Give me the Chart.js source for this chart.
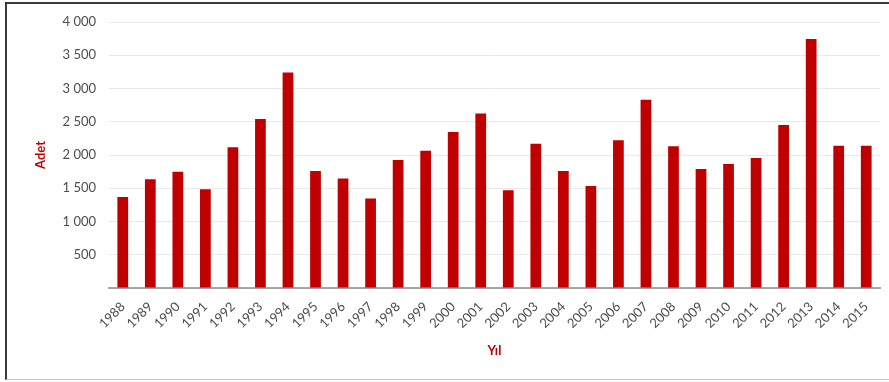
<!DOCTYPE html>
<html>
<head>
<meta charset="utf-8">
<script src="https://cdn.jsdelivr.net/npm/chart.js@4"></script>
<style>
  html, body { margin: 0; padding: 0; background: #fff; }
  #wrap {
    position: relative;
    width: 889px; height: 382px;
    box-sizing: border-box;
  }
  #frame {
    position: absolute; left: 5px; top: 2px; width: 884px; height: 378px;
    border-left: 2px solid #3a3a3a; border-top: 2px solid #3a3a3a;
    border-bottom: 1px solid #c8c8c8;
    box-sizing: border-box; pointer-events: none;
  }
  canvas { position: absolute; left: 0; top: 0; }
</style>
</head>
<body>
<div id="wrap">
  <canvas id="chart" width="889" height="382"></canvas>
  <div id="frame"></div>
</div>
<script>
const years = ['1988', '1989', '1990', '1991', '1992', '1993', '1994', '1995', '1996', '1997',
  '1998', '1999', '2000', '2001', '2002', '2003', '2004', '2005', '2006', '2007',
  '2008', '2009', '2010', '2011', '2012', '2013', '2014', '2015'];
const counts = [1370, 1635, 1750, 1485, 2115, 2540, 3240, 1760, 1645, 1345,
  1925, 2065, 2345, 2625, 1470, 2170, 1760, 1535, 2220, 2830,
  2130, 1790, 1865, 1955, 2450, 3745, 2140, 2140];
const yMin = 0;
const yMax = 4000;
const yStep = 500;

const red = '#C00000';
const tickColor = '#4d4d4d';
const font = 'Lato, "Open Sans", sans-serif';

function spaced(v) {
  return String(v).replace(/\B(?=(\d{3})+(?!\d))/g, ' ');
}

new Chart(document.getElementById('chart'), {
  type: 'bar',
  data: {
    labels: years,
    datasets: [{
      label: 'Adet',
      data: counts,
      backgroundColor: red,
      borderWidth: 0,
      barPercentage: 0.39,
      categoryPercentage: 1.0
    }]
  },
  options: {
    responsive: false,
    animation: false,
    layout: { padding: { left: 29, top: 22, right: 9, bottom: 19 } },
    plugins: { legend: { display: false }, tooltip: { enabled: false } },
    scales: {
      x: {
        grid: { display: false, drawTicks: false },
        border: { display: true, color: '#a6a6a6', width: 2 },
        ticks: {
          color: tickColor,
          font: { family: font, size: 13 },
          minRotation: 45, maxRotation: 45,
          padding: 11,
          autoSkip: false
        },
        title: {
          display: true, text: 'Yıl', color: red,
          font: { family: font, size: 13, weight: 'bold' }
        },
        afterFit: (scale) => { scale.height = 382 - 19 - 288; }
      },
      y: {
        min: yMin, max: yMax,
        grid: { color: '#e9e9e9', lineWidth: 1, drawTicks: false },
        border: { display: false },
        ticks: {
          stepSize: yStep,
          color: tickColor,
          font: { family: font, size: 13 },
          padding: 13,
          callback: (v) => (v === 0 ? '' : spaced(v))
        },
        title: {
          display: true, text: 'Adet', color: red,
          font: { family: font, size: 13, weight: 'bold' }
        },
        afterFit: (scale) => { scale.width = 109 - 29; }
      }
    }
  }
});
</script>
</body>
</html>
